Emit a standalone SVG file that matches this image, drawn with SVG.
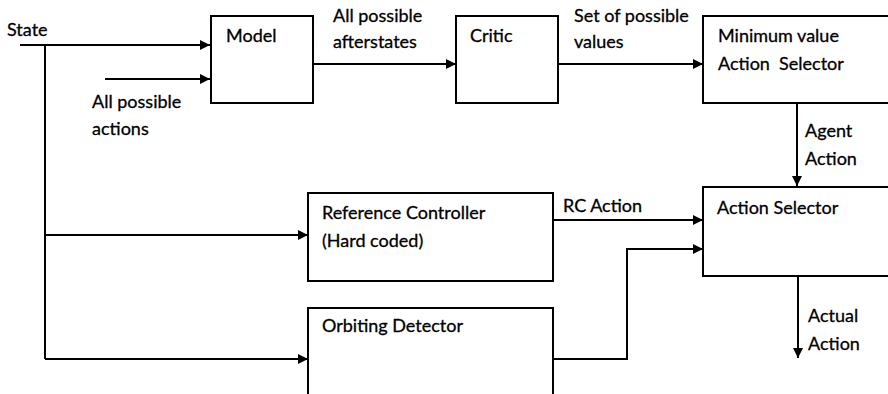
<svg xmlns="http://www.w3.org/2000/svg" width="888" height="394" viewBox="0 0 888 394">
<defs>
<marker id="arr" viewBox="0 0 10 10" refX="10" refY="5" markerWidth="5" markerHeight="5" orient="auto" markerUnits="strokeWidth">
<path d="M0,0 L10,5 L0,10 Z" fill="#000"/>
</marker>
<style>
.box{fill:#fff;stroke:#000;stroke-width:2}
.ln{fill:none;stroke:#000;stroke-width:2}
.ar{fill:none;stroke:#000;stroke-width:2;marker-end:url(#arr)}
text{font-family:Lato,"Open Sans","Liberation Sans",sans-serif;font-size:18px;fill:#000;stroke:#000;stroke-width:0.3}
</style>
</defs>
<rect width="888" height="394" fill="#fff"/>
<g id="connectors">
<line class="ar" x1="20" y1="45" x2="210" y2="45"/>
<line class="ln" x1="45" y1="45" x2="45" y2="359"/>
<line class="ar" x1="105" y1="79" x2="210" y2="79"/>
<line class="ar" x1="313" y1="64" x2="456" y2="64"/>
<line class="ar" x1="558" y1="64" x2="703" y2="64"/>
<line class="ar" x1="797" y1="103" x2="797" y2="186"/>
<line class="ar" x1="45" y1="235" x2="308" y2="235"/>
<line class="ar" x1="45" y1="359" x2="308" y2="359"/>
<line class="ar" x1="553" y1="220" x2="703" y2="220"/>
<polyline class="ar" points="553,359 627,359 627,249 703,249"/>
<line class="ar" x1="798" y1="277" x2="798" y2="358"/>
<text x="7" y="36">State</text>
<text x="92" y="108">All possible</text>
<text x="92" y="135">actions</text>
<text x="333" y="22">All possible</text>
<text x="333" y="48">afterstates</text>
<text x="574" y="22">Set of possible</text>
<text x="574" y="48">values</text>
<text x="805" y="137">Agent</text>
<text x="805" y="165">Action</text>
<text x="563" y="212">RC Action</text>
<text x="808" y="322">Actual</text>
<text x="808" y="350">Action</text>
</g>
<g id="model">
<rect class="box" x="211" y="16" width="102" height="87"/>
<text x="226" y="42">Model</text>
</g>
<g id="critic">
<rect class="box" x="456" y="16" width="102" height="87"/>
<text x="470" y="42">Critic</text>
</g>
<g id="minselector">
<rect class="box" x="703" y="16" width="200" height="87"/>
<text x="718" y="42">Minimum value</text>
<text x="718" y="70" xml:space="preserve">Action  Selector</text>
</g>
<g id="actionselector">
<rect class="box" x="703" y="187" width="200" height="89"/>
<text x="717" y="214">Action Selector</text>
</g>
<g id="refcontroller">
<rect class="box" x="308" y="193" width="245" height="88"/>
<text x="322" y="219">Reference Controller</text>
<text x="322" y="247">(Hard coded)</text>
</g>
<g id="orbiting">
<rect class="box" x="308" y="308" width="245" height="120"/>
<text x="322" y="332">Orbiting Detector</text>
</g>
</svg>
